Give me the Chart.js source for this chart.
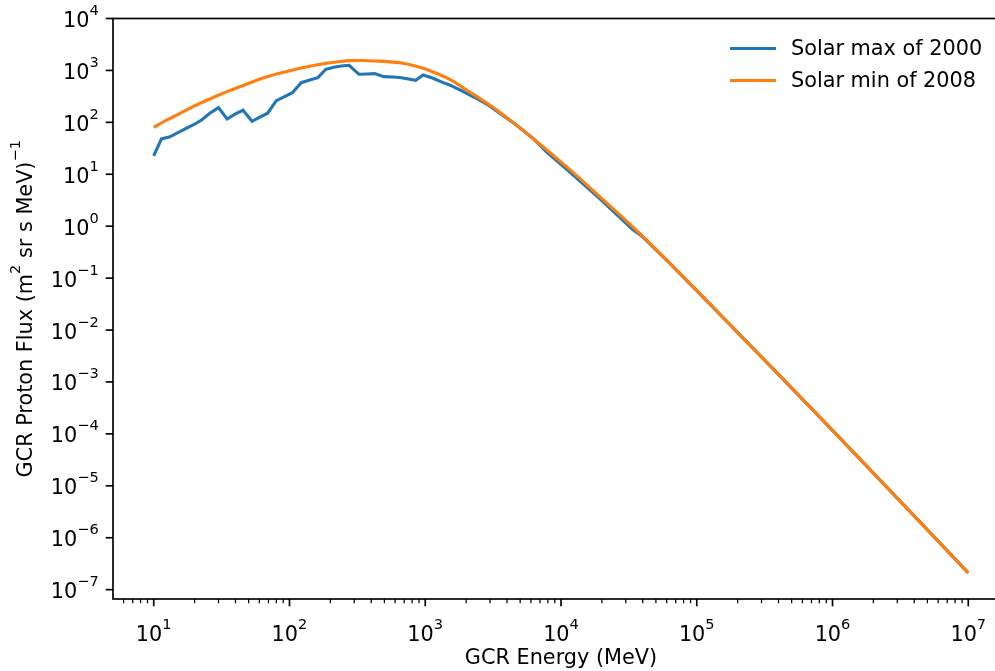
<!DOCTYPE html>
<html>
<head>
<meta charset="utf-8">
<script src="https://cdn.jsdelivr.net/npm/chart.js@4/dist/chart.umd.min.js"></script>
<style>
  html, body { margin: 0; padding: 0; background: #ffffff; overflow: hidden; }
  #wrap { width: 1030px; height: 671px; }
</style>
</head>
<body>
<div id="wrap"><canvas id="c" width="1030" height="671"></canvas></div>
<script>
// GCR proton spectra (MeV vs flux per m^2 sr s MeV)
const energyMax = [10, 11.4, 13, 15.6, 17.9, 20, 22.5, 25.9, 30, 34.7, 40, 45.5, 53, 60, 69, 80, 92, 105,
  122, 141, 162, 185, 212, 241, 275, 325, 375, 425, 495, 580, 668, 851, 964, 1143, 1355, 1513, 1845,
  2380, 2985, 3535, 4690, 6220, 7810, 10970, 19280, 33900, 39800, 63100, 1e5, 3.16e5, 1e6, 3.16e6, 1e7];
const fluxMax = [22.5, 48, 52, 66, 80, 92, 111, 150, 192, 116, 145, 171, 105, 125, 150, 262, 313, 373,
  581, 654, 725, 1052, 1150, 1218, 1256, 843, 855, 867, 760, 749, 725, 646, 817, 706, 581, 525, 408,
  291, 207, 150, 89, 49, 27, 12.6, 3.39, 0.85, 0.63, 0.195, 0.0575, 2.63e-3, 1.17e-4, 5.0e-6, 2.1e-7];

const energyMin = [10, 12, 14.9, 17.8, 22, 27.5, 34.7, 44.7, 60, 79, 106, 141, 187, 229, 278, 347, 437,
  550, 687, 832, 1020, 1513, 2010, 2985, 4190, 6220, 10970, 19280, 39800, 63100, 1e5, 3.16e5, 1e6, 3.16e6, 1e7];
const fluxMin = [80, 105, 139, 178, 233, 302, 390, 500, 676, 840, 1020, 1200, 1375, 1470, 1541, 1550, 1514,
  1460, 1375, 1230, 1052, 676, 421, 216, 111, 49, 14, 3.7, 0.646, 0.195, 0.0575, 2.63e-3, 1.17e-4, 5.0e-6, 2.1e-7];

const seriesNames = ['Solar max of 2000', 'Solar min of 2008'];
const xTickExponents = [1, 2, 3, 4, 5, 6, 7];
const yTickExponents = [-7, -6, -5, -4, -3, -2, -1, 0, 1, 2, 3, 4];
const xTitle = 'GCR Energy (MeV)';

const FONT = '"DejaVu Sans", "Liberation Sans", sans-serif';
const BASE = 20.8;
const SUP = 14.6;
const BLUE = '#1f77b4';
const ORANGE = '#ff7f0e';

function toPoints(xs, ys) {
  return xs.map((x, i) => ({ x: x, y: ys[i] }));
}

function expText(e) {
  return e < 0 ? '\u2212' + Math.abs(e) : String(e);
}

// draws "10^e" with a raised exponent; align: 'center' | 'right'
function drawPower(ctx, e, x, baseline, align) {
  ctx.font = BASE + 'px ' + FONT;
  const wb = ctx.measureText('10').width;
  ctx.font = SUP + 'px ' + FONT;
  const es = expText(e);
  const we = ctx.measureText(es).width;
  const total = wb + we;
  const x0 = align === 'right' ? x - total : x - total / 2;
  ctx.textAlign = 'left';
  ctx.textBaseline = 'alphabetic';
  ctx.font = BASE + 'px ' + FONT;
  ctx.fillText('10', x0, baseline);
  ctx.font = SUP + 'px ' + FONT;
  ctx.fillText(es, x0 + wb, baseline - 12);
}

const axesPlugin = {
  id: 'mplAxes',
  afterDatasetsDraw(chart) {
    const ctx = chart.ctx;
    const xs = chart.scales.x;
    const ys = chart.scales.y;
    const a = chart.chartArea;
    ctx.save();
    ctx.fillStyle = '#000';
    ctx.strokeStyle = '#000';

    // frame
    ctx.lineWidth = 1.67;
    ctx.strokeRect(a.left, a.top, a.right - a.left, a.bottom - a.top);

    // x major ticks and labels
    xTickExponents.forEach(e => {
      const px = xs.getPixelForValue(Math.pow(10, e));
      ctx.lineWidth = 1.67;
      ctx.beginPath();
      ctx.moveTo(px, a.bottom);
      ctx.lineTo(px, a.bottom + 7.3);
      ctx.stroke();
      drawPower(ctx, e, px, a.bottom + 42, 'center');
    });
    // x minor ticks
    ctx.lineWidth = 1.25;
    for (let d = 0; d <= 7; d++) {
      for (let k = 2; k <= 9; k++) {
        const v = k * Math.pow(10, d);
        if (v < xs.min || v > xs.max) continue;
        const px = xs.getPixelForValue(v);
        ctx.beginPath();
        ctx.moveTo(px, a.bottom);
        ctx.lineTo(px, a.bottom + 4.2);
        ctx.stroke();
      }
    }

    // y major ticks and labels
    ctx.lineWidth = 1.67;
    yTickExponents.forEach(e => {
      const py = ys.getPixelForValue(Math.pow(10, e));
      ctx.beginPath();
      ctx.moveTo(a.left, py);
      ctx.lineTo(a.left - 7.3, py);
      ctx.stroke();
      drawPower(ctx, e, a.left - 14.3, py + 8.5, 'right');
    });

    // x title
    ctx.font = BASE + 'px ' + FONT;
    ctx.textAlign = 'center';
    ctx.textBaseline = 'alphabetic';
    ctx.fillText(xTitle, (a.left + a.right) / 2, 664);

    // y title with superscripts, rotated
    const parts = [
      ['GCR Proton Flux (m', BASE, 0],
      ['2', SUP, 12],
      [' sr s MeV)', BASE, 0],
      ['\u22121', SUP, 12]
    ];
    let total = 0;
    parts.forEach(p => { ctx.font = p[1] + 'px ' + FONT; p.push(ctx.measureText(p[0]).width); total += p[3]; });
    ctx.save();
    ctx.translate(32, (a.top + a.bottom) / 2);
    ctx.rotate(-Math.PI / 2);
    ctx.textAlign = 'left';
    let cx = -total / 2;
    parts.forEach(p => {
      ctx.font = p[1] + 'px ' + FONT;
      ctx.fillText(p[0], cx, -p[2]);
      cx += p[3];
    });
    ctx.restore();

    // legend
    const rows = [[seriesNames[0], BLUE, 48.5], [seriesNames[1], ORANGE, 80.5]];
    rows.forEach(r => {
      ctx.strokeStyle = r[1];
      ctx.lineWidth = 3.1;
      ctx.beginPath();
      ctx.moveTo(730, r[2]);
      ctx.lineTo(776, r[2]);
      ctx.stroke();
      ctx.fillStyle = '#000';
      ctx.font = BASE + 'px ' + FONT;
      ctx.textAlign = 'left';
      ctx.textBaseline = 'middle';
      ctx.fillText(r[0], 791, r[2] + 1);
    });
    ctx.restore();
  }
};

new Chart(document.getElementById('c'), {
  type: 'line',
  data: {
    datasets: [
      {
        label: seriesNames[0],
        data: toPoints(energyMax, fluxMax),
        borderColor: BLUE,
        borderWidth: 3.1,
        pointRadius: 0,
        fill: false,
        tension: 0,
        order: 1
      },
      {
        label: seriesNames[1],
        data: toPoints(energyMin, fluxMin),
        borderColor: ORANGE,
        borderWidth: 3.1,
        pointRadius: 0,
        fill: false,
        tension: 0.4,
        order: 0
      }
    ]
  },
  options: {
    responsive: false,
    devicePixelRatio: 1,
    animation: false,
    events: [],
    layout: { padding: { left: 113, top: 18.5, right: 21, bottom: 72 } },
    plugins: { legend: { display: false }, tooltip: { enabled: false } },
    scales: {
      x: {
        type: 'logarithmic',
        min: Math.pow(10, 0.7),
        max: Math.pow(10, 7.3),
        ticks: { display: false },
        grid: { display: false },
        border: { display: false },
        afterFit(scale) { scale.height = 0; }
      },
      y: {
        type: 'logarithmic',
        min: Math.pow(10, -7.18),
        max: 1e4,
        ticks: { display: false },
        grid: { display: false },
        border: { display: false },
        afterFit(scale) { scale.width = 0; }
      }
    }
  },
  plugins: [axesPlugin]
});
</script>
</body>
</html>
